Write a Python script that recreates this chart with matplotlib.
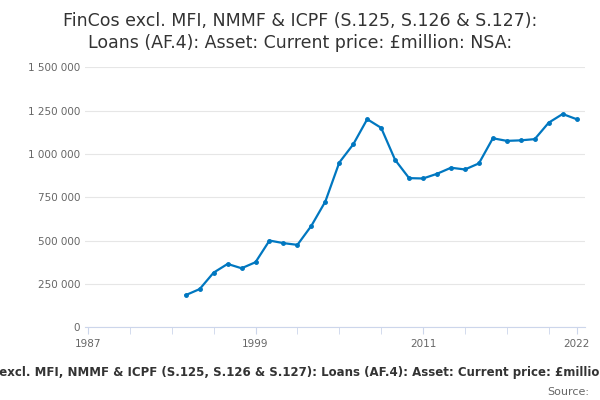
import matplotlib.pyplot as plt
from matplotlib.ticker import FuncFormatter

years = list(range(1994, 2023))
values = [185000, 220000, 315000, 365000, 340000, 375000, 500000, 485000,
          475000, 585000, 725000, 950000, 1055000, 1200000, 1150000, 965000,
          860000, 858000, 885000, 920000, 910000, 945000, 1090000, 1075000,
          1078000, 1085000, 1180000, 1230000, 1200000]
yticks = [0, 250000, 500000, 750000, 1000000, 1250000, 1500000]
xlabels = [1987, 1999, 2011, 2022]

fig = plt.figure(figsize=(6, 4), dpi=100)
ax = fig.add_axes([0.142, 0.182, 0.833, 0.65])
ax.plot(years, values, color="#0077c0", lw=1.6, marker="o", ms=2.5)
ax.set_xlim(1986.8, 2022.6)
ax.set_ylim(0, 1500000)
ax.set_yticks(yticks)
ax.yaxis.set_major_formatter(FuncFormatter(lambda v, p: f"{int(v):,}".replace(",", " ")))
ax.set_xticks(xlabels)
ax.set_xticks(range(1987, 2023, 3), minor=True)
ax.grid(True, axis="y", color="#e6e6e6", lw=0.8)
for s in ["top", "right", "left"]:
    ax.spines[s].set_visible(False)
ax.spines["bottom"].set_color("#ccd6eb")
ax.tick_params(axis="y", length=0, labelsize=7.5, colors="#666666")
ax.tick_params(axis="x", which="both", length=5, color="#ccd6eb", labelsize=7.5, labelcolor="#666666")
fig.text(0.5, 0.97, "FinCos excl. MFI, NMMF & ICPF (S.125, S.126 & S.127):\nLoans (AF.4): Asset: Current price: £million: NSA:",
         ha="center", va="top", fontsize=12.5, color="#333333", linespacing=1.3)
fig.text(0.5, 0.068, "FinCos excl. MFI, NMMF & ICPF (S.125, S.126 & S.127): Loans (AF.4): Asset: Current price: £million: NSA:",
         ha="center", va="center", fontsize=8.5, fontweight="bold", color="#333333")
fig.text(0.982, 0.008, "Source:", ha="right", va="bottom", fontsize=8, color="#666666")
fig.savefig("out.png", dpi=100)
